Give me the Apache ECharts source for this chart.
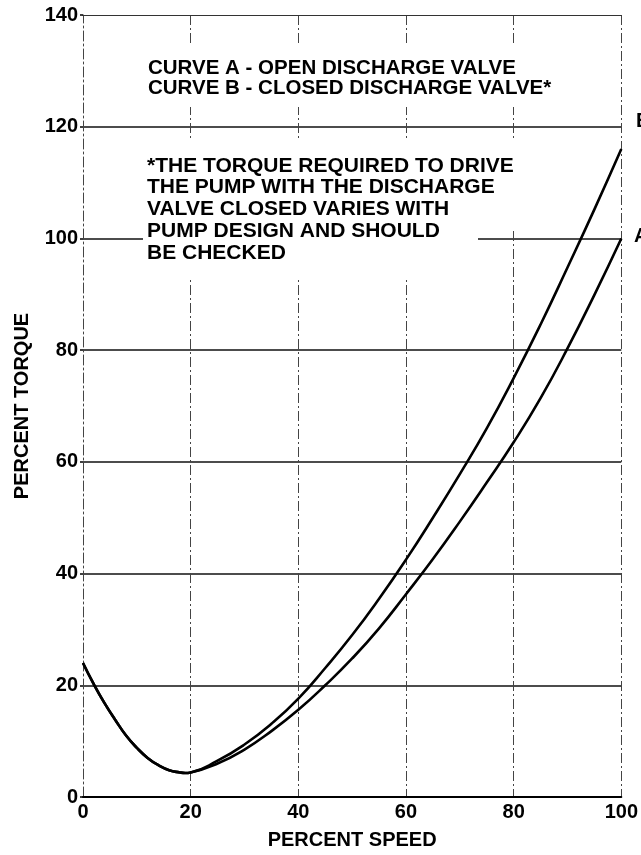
<!DOCTYPE html>
<html>
<head>
<meta charset="utf-8">
<script src="https://cdn.jsdelivr.net/npm/echarts@6/dist/echarts.min.js"></script>
<style>
html,body{margin:0;padding:0;background:#fff;}
#chart{width:641px;height:855px;}
</style>
</head>
<body>
<div id="chart"></div>
<script>
// ---- data ----
const speedDescend  = [0, 2, 4, 6, 8, 10, 12, 14, 16, 18, 19, 20];
const torqueDescend = [24, 20.2, 16.8, 13.8, 11.0, 8.8, 7.0, 5.7, 4.8, 4.4, 4.3, 4.4];
const speedRise     = [25, 30, 35, 40, 45, 50, 55, 60, 65, 70, 75, 80, 85, 90, 95, 100];
const torqueA       = [6.0, 8.5, 11.8, 15.6, 20.0, 24.8, 30.2, 36.3, 42.6, 49.3, 56.3, 63.5, 71.4, 80.3, 89.9, 100.0];
const torqueB       = [6.5, 9.4, 13.1, 17.6, 23.1, 29.0, 35.5, 42.5, 50.0, 57.8, 66.0, 75.0, 84.6, 94.8, 105.2, 116.0];
const xTicks = [0, 20, 40, 60, 80, 100];
const yTicks = [0, 20, 40, 60, 80, 100, 120, 140];
const noteTop = ['CURVE A - OPEN DISCHARGE VALVE', 'CURVE B - CLOSED DISCHARGE VALVE*'];
const noteBottom = ['*THE TORQUE REQUIRED TO DRIVE', 'THE PUMP WITH THE DISCHARGE', 'VALVE CLOSED VARIES WITH', 'PUMP DESIGN AND SHOULD', 'BE CHECKED'];

function pairs(xs, ys) { return xs.map((x, i) => [x, ys[i]]); }
const dataA = pairs(speedDescend, torqueDescend).concat(pairs(speedRise, torqueA));
const dataB = pairs(speedDescend, torqueDescend).concat(pairs(speedRise, torqueB));

const FONT = '"Liberation Sans", Arial, Helvetica, sans-serif';
const chart = echarts.init(document.getElementById('chart'), null, {renderer: 'canvas'});

chart.setOption({
  animation: false,
  backgroundColor: '#fff',
  grid: {left: 83, right: 16, top: 15, bottom: 55, containLabel: false},
  xAxis: [{
    type: 'value', min: 0, max: 100, interval: 20,
    name: 'PERCENT SPEED', nameLocation: 'middle', nameGap: 33,
    nameTextStyle: {fontFamily: FONT, fontWeight: 'bold', fontSize: 20, color: '#000'},
    axisLine: {show: true, lineStyle: {color: '#000', width: 2}},
    axisTick: {show: false},
    axisLabel: {fontFamily: FONT, fontWeight: 'bold', fontSize: 20, color: '#000', margin: 5,
      formatter: v => xTicks.includes(v) ? String(v) : ''},
    splitLine: {show: true, showMinLine: false, showMaxLine: true,
      lineStyle: {color: '#444', width: 1, type: [10, 3, 2, 3]}}
  }, {
    type: 'value', min: 0, max: 100, position: 'top',
    axisLine: {show: true, lineStyle: {color: '#333', width: 1.2}},
    axisTick: {show: false}, axisLabel: {show: false}, splitLine: {show: false}
  }],
  yAxis: {
    type: 'value', min: 0, max: 140, interval: 20,
    name: 'PERCENT TORQUE', nameLocation: 'middle', nameGap: 51,
    nameTextStyle: {fontFamily: FONT, fontWeight: 'bold', fontSize: 20, color: '#000'},
    axisLine: {show: true, lineStyle: {color: '#444', width: 1, type: [10, 3, 2, 3]}},
    axisTick: {show: true, length: 3, lineStyle: {color: '#000', width: 1.5}},
    axisLabel: {fontFamily: FONT, fontWeight: 'bold', fontSize: 20, color: '#000', margin: 5,
      formatter: v => yTicks.includes(v) ? String(v) : ''},
    splitLine: {show: true, showMinLine: false, showMaxLine: false,
      lineStyle: {color: '#111', width: 1.6, type: 'solid'}}
  },
  graphic: [
    {type: 'rect', z: 1, shape: {x: 100, y: 46, width: 500, height: 61}, style: {fill: '#fff'}},
    {type: 'rect', z: 1, shape: {x: 143, y: 141, width: 377, height: 87}, style: {fill: '#fff'}},
    {type: 'rect', z: 1, shape: {x: 143, y: 227, width: 335, height: 50}, style: {fill: '#fff'}},
    {type: 'text', z: 5, x: 148, y: 59, style: {text: noteTop.join('\n'), fill: '#000',
      fontFamily: FONT, fontWeight: 'bold', fontSize: 20.5, lineHeight: 19.5}},
    {type: 'text', z: 5, x: 147, y: 155, style: {text: noteBottom.join('\n'), fill: '#000',
      fontFamily: FONT, fontWeight: 'bold', fontSize: 21, lineHeight: 21.8}},
    {type: 'text', z: 5, x: 636, y: 111, style: {text: 'B', fill: '#000',
      fontFamily: FONT, fontWeight: 'bold', fontSize: 20}},
    {type: 'text', z: 5, x: 634, y: 226, style: {text: 'A', fill: '#000',
      fontFamily: FONT, fontWeight: 'bold', fontSize: 20}}
  ],
  series: [
    {name: 'A', type: 'line', data: dataA, smooth: 0.5, showSymbol: false, symbol: 'none',
      z: 3, lineStyle: {color: '#000', width: 2.6}},
    {name: 'B', type: 'line', data: dataB, smooth: 0.5, showSymbol: false, symbol: 'none',
      z: 3, lineStyle: {color: '#000', width: 2.6}}
  ]
});
</script>
</body>
</html>
